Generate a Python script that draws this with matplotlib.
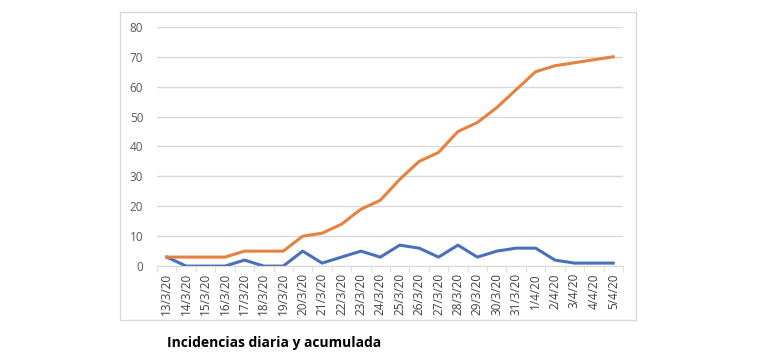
import numpy as np
import matplotlib.pyplot as plt
from matplotlib.patches import Rectangle

# data
dates = ["13/3/20", "14/3/20", "15/3/20", "16/3/20", "17/3/20", "18/3/20",
         "19/3/20", "20/3/20", "21/3/20", "22/3/20", "23/3/20", "24/3/20",
         "25/3/20", "26/3/20", "27/3/20", "28/3/20", "29/3/20", "30/3/20",
         "31/3/20", "1/4/20", "2/4/20", "3/4/20", "4/4/20", "5/4/20"]
daily = [3, 0, 0, 0, 2, 0, 0, 5, 1, 3, 5, 3, 7, 6, 3, 7, 3, 5, 6, 6, 2, 1, 1, 1]
accumulated = [3, 3, 3, 3, 5, 5, 5, 10, 11, 14, 19, 22, 29, 35, 38, 45, 48,
               53, 59, 65, 67, 68, 69, 70]
y_ticks = [0, 10, 20, 30, 40, 50, 60, 70, 80]

plt.rcParams["font.family"] = ["Open Sans", "DejaVu Sans"]

fig = plt.figure(figsize=(7.7, 3.63), dpi=100)

# chart frame
fig.patches.append(Rectangle((0.156, 0.118), 0.670, 0.848, transform=fig.transFigure,
                             fill=False, edgecolor="#d9d9d9", linewidth=1))

ax = fig.add_axes([0.204, 0.267, 0.605, 0.659])
x = np.arange(len(dates))
ax.plot(x, daily, color="#4A70B8", linewidth=2.2, solid_joinstyle="round")
ax.plot(x, accumulated, color="#E5823F", linewidth=2.2, solid_joinstyle="round")

ax.set_xlim(-0.5, len(dates) - 0.5)
ax.set_ylim(0, 80)
ax.set_yticks(y_ticks)
ax.yaxis.grid(True, color="#d9d9d9", linewidth=1)
ax.set_axisbelow(True)
for s in ["top", "right", "left"]:
    ax.spines[s].set_visible(False)
ax.spines["bottom"].set_color("#d9d9d9")

ax.set_xticks(x)
ax.set_xticklabels(dates, rotation=90, fontsize=8.5, color="#404040")
ax.set_xticks(np.arange(-0.5, len(dates)), minor=True)
ax.tick_params(axis="x", which="major", length=0, pad=5)
ax.tick_params(axis="x", which="minor", length=4, color="#d9d9d9")
ax.tick_params(axis="y", length=0, labelsize=8.5, labelcolor="#595959", pad=10)

fig.text(0.217, 0.055, "Incidencias diaria y acumulada", fontsize=10,
         fontweight="bold", va="center", ha="left", color="black")

fig.savefig("out.png", dpi=100)
